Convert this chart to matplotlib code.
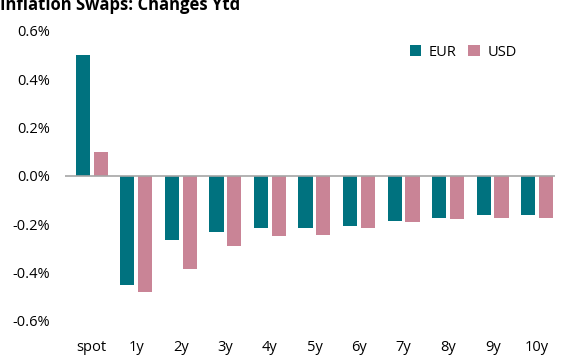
import matplotlib.pyplot as plt
import numpy as np

plt.rcParams['font.family'] = ['Open Sans', 'DejaVu Sans']

tenors = ["spot", "1y", "2y", "3y", "4y", "5y", "6y", "7y", "8y", "9y", "10y"]
eur = [0.50, -0.45, -0.265, -0.23, -0.215, -0.215, -0.205, -0.185, -0.175, -0.16, -0.16]
usd = [0.10, -0.48, -0.385, -0.29, -0.25, -0.245, -0.215, -0.19, -0.18, -0.175, -0.175]

teal = "#00727f"
pink = "#c98496"

fig = plt.figure(figsize=(5.63, 3.6), dpi=100)
ax = fig.add_axes([65/563, 39/360, 490/563, 290/360])

x = np.arange(len(tenors))
w = 0.32
ax.bar(x - 0.2, eur, w, color=teal, label="EUR", zorder=2)
ax.bar(x + 0.2, usd, w, color=pink, label="USD", zorder=2)

ax.axhline(0, color="#a6a6a6", lw=1.2, zorder=3)
ax.set_xlim(-0.6, 10.4)
ax.set_ylim(-0.6, 0.6)
ax.set_yticks([-0.6, -0.4, -0.2, 0.0, 0.2, 0.4, 0.6])
ax.set_yticklabels([f"{v:.1f}%" for v in [-0.6, -0.4, -0.2, 0.0, 0.2, 0.4, 0.6]])
ax.set_xticks(x)
ax.set_xticklabels(tenors)
ax.tick_params(axis="both", length=0, labelsize=10.5, colors="black")
ax.tick_params(axis="x", pad=14)
ax.tick_params(axis="y", pad=11)
for s in ax.spines.values():
    s.set_visible(False)

ax.legend(loc="upper right", bbox_to_anchor=(0.948, 0.998), ncol=2, frameon=False,
          fontsize=10.5, handlelength=0.8, handleheight=0.8, columnspacing=0.8,
          handletextpad=0.5)

fig.text(0.0, 1.01, "Inflation Swaps: Changes Ytd", fontsize=12, fontweight="bold",
         ha="left", va="top")

fig.savefig("out.png", dpi=100)
